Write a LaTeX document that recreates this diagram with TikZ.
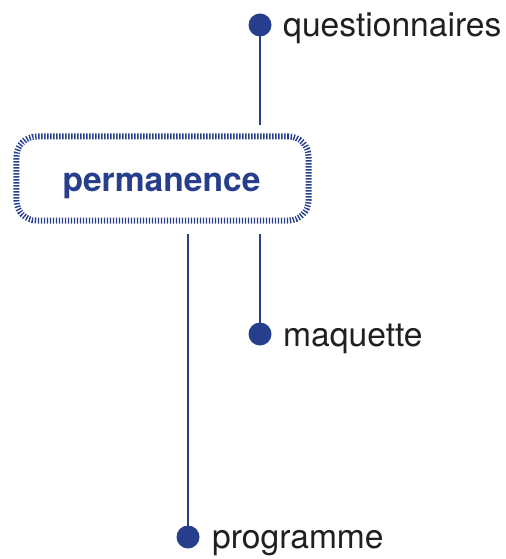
\documentclass[tikz,border=0pt]{standalone}
\usepackage{fontspec}
\setmainfont{TeX Gyre Heros}
\definecolor{pblue}{RGB}{38,62,140}
\definecolor{ptext}{RGB}{35,31,32}
\begin{document}
\begin{tikzpicture}[x=1bp,y=-1bp,
  dotstyle/.style={circle,fill=pblue,inner sep=0pt,minimum size=23bp},
  conn/.style={draw=pblue,line width=2.8bp},
  lbl/.style={anchor=base west,inner sep=0pt,text=ptext,font=\fontsize{33.6bp}{40bp}\selectfont},
  boxstyle/.style={draw=pblue,line width=6bp,dash pattern=on 1.4bp off 1.6bp,rounded corners=20bp,
    minimum width=292bp,minimum height=84bp,inner sep=0pt}]
\useasboundingbox (0,0) rectangle (506,559);
\node[boxstyle] (perm) at (162.5,178.5) {};
\node[anchor=base,inner sep=0pt,text=pblue,font=\fontsize{33.6bp}{40bp}\selectfont\bfseries] (permtxt) at (161.5,192) {permanence};
\node[dotstyle] (qdot) at (260,25) {};
\node[dotstyle] (mdot) at (260,334) {};
\node[dotstyle] (pdot) at (188,537) {};
\node[lbl] (qtxt) at (283,37) {questionnaires};
\node[lbl] (mtxt) at (283,346) {maquette};
\node[lbl] (ptxt) at (212,548) {programme};
\coordinate (qend) at (260,125);
\coordinate (mstart) at (260,234);
\coordinate (pstart) at (188,234);
\draw[conn] (qdot.center) -- (qend);
\draw[conn] (mstart) -- (mdot.center);
\draw[conn] (pstart) -- (pdot.center);
\end{tikzpicture}
\end{document}
